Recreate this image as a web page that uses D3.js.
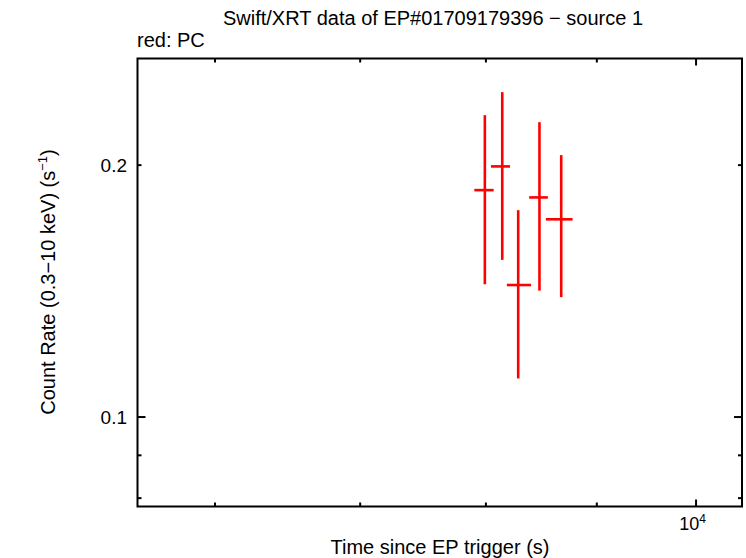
<!DOCTYPE html>
<html><head><meta charset="utf-8">
<script src="https://cdn.jsdelivr.net/npm/d3@7"></script>
<style>body{margin:0;background:#fff}svg{display:block}text{font-family:"Liberation Sans",Arial,sans-serif;fill:#000}</style>
</head><body><div id="c"></div>
<script>
const times = [7991, 8140, 8279, 8468, 8666];
const timeLo = [7902, 8043, 8180, 8376, 8526];
const timeHi = [8066, 8207, 8393, 8544, 8771];
const rates = [0.1867, 0.1993, 0.1438, 0.1830, 0.1723];
const rateLo = [0.1441, 0.1541, 0.1112, 0.1416, 0.1391];
const rateHi = [0.2295, 0.2445, 0.1767, 0.2251, 0.2056];
const xMajorTicks = [10000];
const xMinorTicks = [6000, 7000, 8000, 9000];
const yMajorTicks = [0.1];
const yMinorTicks = [0.08, 0.09, 0.2];
const yTickLabels = [{v:0.1, t:"0.1"}, {v:0.2, t:"0.2"}];

const W = 746, H = 558;
const L = 137.5, R = 742, T = 58.5, B = 506.5;
const svg = d3.select("#c").append("svg").attr("width", W).attr("height", H);
const x = d3.scaleLog().domain([5526, 10500]).range([L, R]);
const y = d3.scaleLog().domain([0.07818, 0.2682]).range([B, T]);

// ticks
const tk = svg.append("g").attr("stroke", "#000").attr("stroke-width", 2);
function xt(v, len) {
  tk.append("line").attr("x1", x(v)).attr("x2", x(v)).attr("y1", B).attr("y2", B - len);
  tk.append("line").attr("x1", x(v)).attr("x2", x(v)).attr("y1", T).attr("y2", T + len);
}
function yt(v, len) {
  tk.append("line").attr("y1", y(v)).attr("y2", y(v)).attr("x1", L).attr("x2", L + len);
  tk.append("line").attr("y1", y(v)).attr("y2", y(v)).attr("x1", R).attr("x2", R - len);
}
xMajorTicks.forEach(v => xt(v, 7));
xMinorTicks.forEach(v => xt(v, 4));
yMajorTicks.forEach(v => yt(v, 8));
yMinorTicks.forEach(v => yt(v, 4));

// data
const g = svg.append("g").attr("stroke", "#ff0000").attr("stroke-width", 2.6);
times.forEach((t, i) => {
  g.append("line").attr("x1", x(t)).attr("x2", x(t)).attr("y1", y(rateLo[i])).attr("y2", y(rateHi[i]));
  g.append("line").attr("x1", x(timeLo[i])).attr("x2", x(timeHi[i])).attr("y1", y(rates[i])).attr("y2", y(rates[i]));
});

// frame
svg.append("rect").attr("x", L).attr("y", T).attr("width", R - L).attr("height", B - T)
  .attr("fill", "none").attr("stroke", "#000").attr("stroke-width", 2);

// labels
yTickLabels.forEach(d => {
  svg.append("text").attr("x", 127).attr("y", y(d.v) + 7).attr("text-anchor", "end")
    .attr("font-size", 19).text(d.t);
});
const xl = svg.append("text").attr("x", x(10000) + 10).attr("y", 530).attr("text-anchor", "end").attr("font-size", 18);
xl.append("tspan").text("10");
xl.append("tspan").attr("font-size", 12).attr("dy", -7).text("4");

svg.append("text").attr("x", 433).attr("y", 25).attr("text-anchor", "middle").attr("font-size", 20)
  .text("Swift/XRT data of EP#01709179396 \u2212 source 1");
svg.append("text").attr("x", 137).attr("y", 47).attr("font-size", 20).text("red: PC");
svg.append("text").attr("x", 440).attr("y", 554).attr("text-anchor", "middle").attr("font-size", 20)
  .text("Time since EP trigger (s)");
const yl = svg.append("text").attr("transform", "translate(55,282) rotate(-90)")
  .attr("text-anchor", "middle").attr("font-size", 20);
yl.append("tspan").text("Count Rate (0.3\u221210 keV) (s");
yl.append("tspan").attr("font-size", 13).attr("dy", -8).text("\u22121");
yl.append("tspan").attr("dy", 8).text(")");
</script></body></html>
